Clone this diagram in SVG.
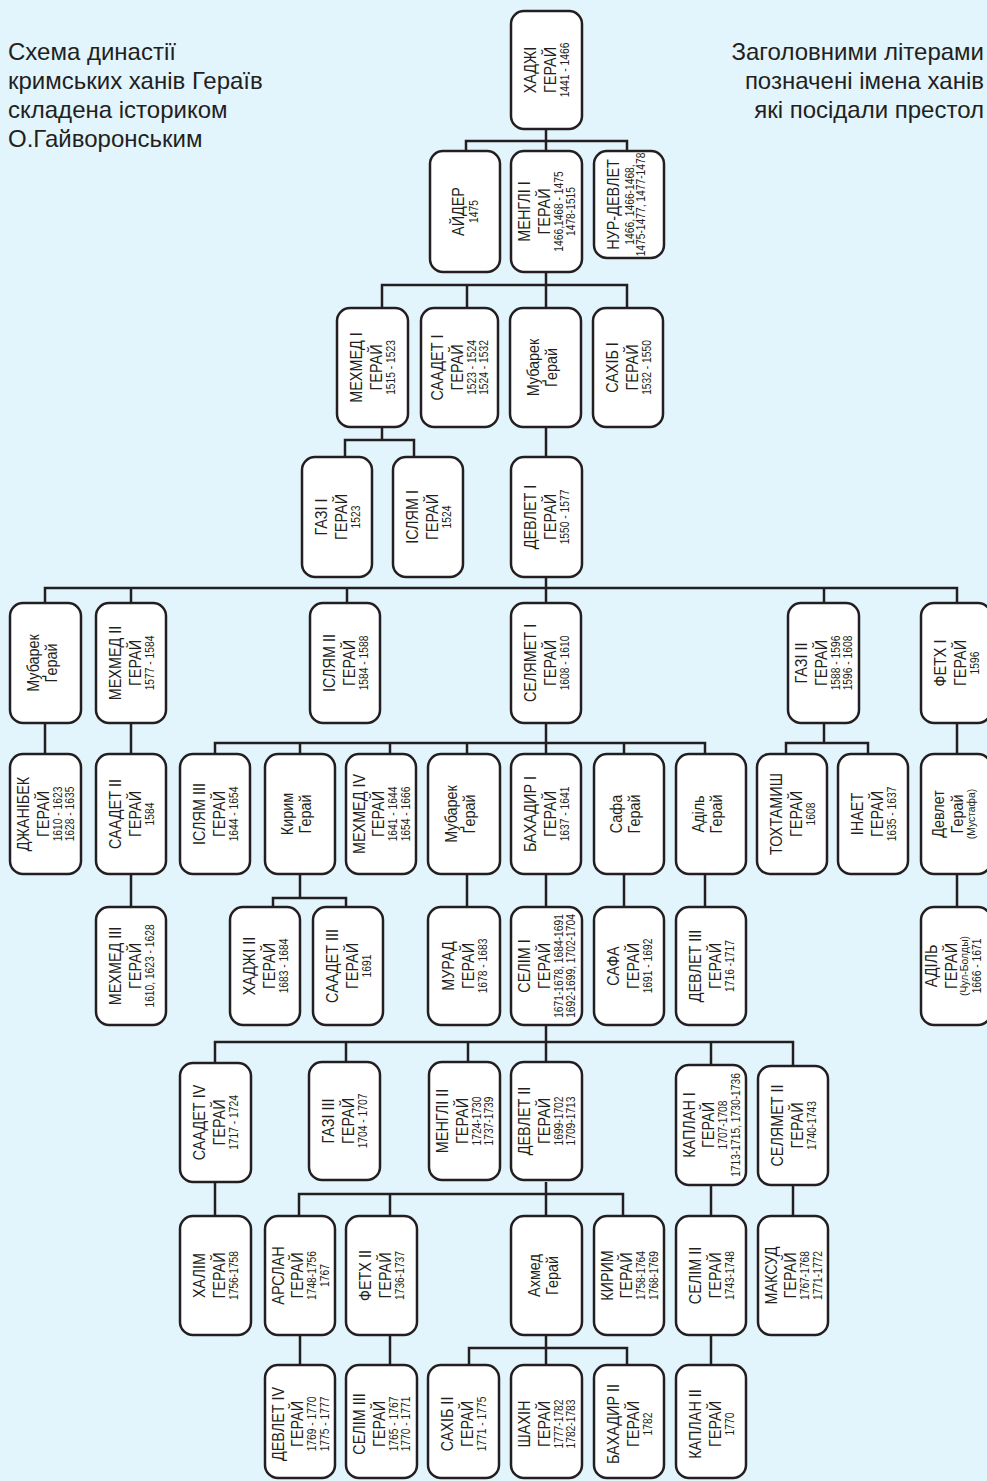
<svg xmlns="http://www.w3.org/2000/svg" width="987" height="1481" viewBox="0 0 987 1481">
<style>
.bg{fill:#e2f4fc}
.b{fill:#fff;stroke:#231f20;stroke-width:2.5}
.c{fill:none;stroke:#231f20;stroke-width:2.5}
text{font-family:"Liberation Sans",Arial,sans-serif;fill:#231f20;text-anchor:middle}
.nm text{font-size:16px}
.dt text{font-size:13.5px}
.sm text{font-size:11.5px}
.note{font-size:24px;text-anchor:start}
.noter{font-size:24px;text-anchor:end}
</style>
<rect class="bg" x="0" y="0" width="987" height="1481"/>
<g id="note-left">
<text class="note" x="8" y="60">Схема династії</text>
<text class="note" x="8" y="89">кримських ханів Гераїв</text>
<text class="note" x="8" y="118">складена істориком</text>
<text class="note" x="8" y="147">О.Гайворонським</text>
</g>
<g id="note-right">
<text class="noter" x="984" y="60">Заголовними літерами</text>
<text class="noter" x="984" y="89">позначені імена ханів</text>
<text class="noter" x="984" y="118">які посідали престол</text>
</g>
<g id="connectors">
<path class="c" d="M546 129V141M466 151V141H627V151M546 141V151
M546 272V285M382 308V285H627V308M467 285V308M546 285V308
M382 427V440M345 457V440H414V457
M546 427V457
M546 577V588M45 603V588H957V603M131 588V603M347 588V603M546 588V603M824 588V603
M45 723V754M131 723V754
M546 723V743M215 754V743H705V754M300 743V754M390 743V754M467 743V754M546 743V754M624 743V754
M824 723V743M786 754V743H868V754
M957 723V754
M131 874V907
M300 874V898M273 907V898H346V907
M467 874V907M546 874V907M624 874V907M705 874V907M957 874V907
M546 1025V1042M215 1063V1042H793V1066M346 1042V1063M468 1042V1063M546 1042V1063M711 1042V1065
M215 1182V1216
M546 1182V1194M299 1216V1194H623V1216M390 1194V1216M546 1194V1216
M711 1185V1216M793 1185V1216
M300 1335V1365M390 1335V1365
M546 1335V1348M469 1365V1348H627V1365M546 1348V1365
M711 1335V1365"/>
</g>

<g id="hadzhi1"><rect class="b" x="511" y="11" width="71" height="118" rx="13"/><g transform="translate(546.5 70) rotate(-90)"><g class="nm" transform="scale(.9 1)"><text y="-10.5">ХАДЖІ</text><text y="9.5">ГЕРАЙ</text></g><g class="dt" transform="scale(.76 1)"><text y="23">1441 - 1466</text></g></g></g>

<g id="aider"><rect class="b" x="430" y="151" width="70" height="121" rx="13"/><g transform="translate(465 211.5) rotate(-90)"><g class="nm" transform="scale(.9 1)"><text y="-1.5">АЙДЕР</text></g><g class="dt" transform="scale(.76 1)"><text y="13.5">1475</text></g></g></g>

<g id="mengli1"><rect class="b" x="511" y="151" width="71" height="121" rx="13"/><g transform="translate(546.5 211.5) rotate(-90)"><g class="nm" transform="scale(.9 1)"><text y="-16.5">МЕНГЛІ I</text><text y="3">ГЕРАЙ</text></g><g class="dt" transform="scale(.76 1)"><text y="16.5">1466,1468 - 1475</text><text y="29">1478-1515</text></g></g></g>

<g id="nur-devlet"><rect class="b" x="594" y="151" width="70" height="107" rx="13"/><g transform="translate(629 204.5) rotate(-90)"><g class="nm" transform="scale(.9 1)"><text y="-10.5">НУР-ДЕВЛЕТ</text></g><g class="dt" transform="scale(.76 1)"><text y="4.5">1466, 1466-1468,</text><text y="16.5">1475-1477, 1477-1478</text></g></g></g>

<g id="mehmed1"><rect class="b" x="337" y="308" width="71" height="119" rx="13"/><g transform="translate(372.5 367.5) rotate(-90)"><g class="nm" transform="scale(.9 1)"><text y="-10.5">МЕХМЕД I</text><text y="9.5">ГЕРАЙ</text></g><g class="dt" transform="scale(.76 1)"><text y="23">1515 - 1523</text></g></g></g>

<g id="saadet1"><rect class="b" x="421" y="308" width="77" height="119" rx="13"/><g transform="translate(459.5 367.5) rotate(-90)"><g class="nm" transform="scale(.9 1)"><text y="-16.5">СААДЕТ I</text><text y="3">ГЕРАЙ</text></g><g class="dt" transform="scale(.76 1)"><text y="16.5">1523 - 1524</text><text y="29">1524 - 1532</text></g></g></g>

<g id="mubarek1"><rect class="b" x="510" y="308" width="71" height="119" rx="13"/><g transform="translate(545.5 367.5) rotate(-90)"><g class="nm" transform="scale(.9 1)"><text y="-7">Мубарек</text><text y="11">Ґерай</text></g></g></g>

<g id="sakhib1"><rect class="b" x="593" y="308" width="70" height="119" rx="13"/><g transform="translate(628 367.5) rotate(-90)"><g class="nm" transform="scale(.9 1)"><text y="-10.5">САХІБ I</text><text y="9.5">ГЕРАЙ</text></g><g class="dt" transform="scale(.76 1)"><text y="23">1532 - 1550</text></g></g></g>

<g id="gazi1"><rect class="b" x="302" y="457" width="70" height="120" rx="13"/><g transform="translate(337 517) rotate(-90)"><g class="nm" transform="scale(.9 1)"><text y="-10.5">ГАЗІ I</text><text y="9.5">ГЕРАЙ</text></g><g class="dt" transform="scale(.76 1)"><text y="23">1523</text></g></g></g>

<g id="islam1"><rect class="b" x="393" y="457" width="70" height="120" rx="13"/><g transform="translate(428 517) rotate(-90)"><g class="nm" transform="scale(.9 1)"><text y="-10.5">ІСЛЯМ I</text><text y="9.5">ГЕРАЙ</text></g><g class="dt" transform="scale(.76 1)"><text y="23">1524</text></g></g></g>

<g id="devlet1"><rect class="b" x="511" y="457" width="71" height="120" rx="13"/><g transform="translate(546.5 517) rotate(-90)"><g class="nm" transform="scale(.9 1)"><text y="-10.5">ДЕВЛЕТ I</text><text y="9.5">ГЕРАЙ</text></g><g class="dt" transform="scale(.76 1)"><text y="23">1550 - 1577</text></g></g></g>

<g id="mubarek2"><rect class="b" x="10" y="603" width="71" height="120" rx="13"/><g transform="translate(45.5 663) rotate(-90)"><g class="nm" transform="scale(.9 1)"><text y="-7">Мубарек</text><text y="11">Ґерай</text></g></g></g>

<g id="mehmed2"><rect class="b" x="96" y="603" width="70" height="120" rx="13"/><g transform="translate(131 663) rotate(-90)"><g class="nm" transform="scale(.9 1)"><text y="-10.5">МЕХМЕД II</text><text y="9.5">ГЕРАЙ</text></g><g class="dt" transform="scale(.76 1)"><text y="23">1577 - 1584</text></g></g></g>

<g id="islam2"><rect class="b" x="310" y="603" width="70" height="120" rx="13"/><g transform="translate(345 663) rotate(-90)"><g class="nm" transform="scale(.9 1)"><text y="-10.5">ІСЛЯМ II</text><text y="9.5">ГЕРАЙ</text></g><g class="dt" transform="scale(.76 1)"><text y="23">1584 - 1588</text></g></g></g>

<g id="selyamet1"><rect class="b" x="511" y="603" width="70" height="120" rx="13"/><g transform="translate(546 663) rotate(-90)"><g class="nm" transform="scale(.9 1)"><text y="-10.5">СЕЛЯМЕТ I</text><text y="9.5">ГЕРАЙ</text></g><g class="dt" transform="scale(.76 1)"><text y="23">1608 - 1610</text></g></g></g>

<g id="gazi2"><rect class="b" x="788" y="603" width="71" height="120" rx="13"/><g transform="translate(823.5 663) rotate(-90)"><g class="nm" transform="scale(.9 1)"><text y="-16.5">ГАЗІ II</text><text y="3">ГЕРАЙ</text></g><g class="dt" transform="scale(.76 1)"><text y="16.5">1588 - 1596</text><text y="29">1596 - 1608</text></g></g></g>

<g id="fetkh1"><rect class="b" x="921" y="603" width="70" height="120" rx="13"/><g transform="translate(956 663) rotate(-90)"><g class="nm" transform="scale(.9 1)"><text y="-10.5">ФЕТХ I</text><text y="9.5">ГЕРАЙ</text></g><g class="dt" transform="scale(.76 1)"><text y="23">1596</text></g></g></g>

<g id="dzhanibek"><rect class="b" x="10" y="754" width="71" height="120" rx="13"/><g transform="translate(45.5 814) rotate(-90)"><g class="nm" transform="scale(.9 1)"><text y="-16.5">ДЖАНІБЕК</text><text y="3">ГЕРАЙ</text></g><g class="dt" transform="scale(.76 1)"><text y="16.5">1610 - 1623</text><text y="29">1628 - 1635</text></g></g></g>

<g id="saadet2"><rect class="b" x="96" y="754" width="70" height="120" rx="13"/><g transform="translate(131 814) rotate(-90)"><g class="nm" transform="scale(.9 1)"><text y="-10.5">СААДЕТ II</text><text y="9.5">ГЕРАЙ</text></g><g class="dt" transform="scale(.76 1)"><text y="23">1584</text></g></g></g>

<g id="islam3"><rect class="b" x="180" y="754" width="70" height="120" rx="13"/><g transform="translate(215 814) rotate(-90)"><g class="nm" transform="scale(.9 1)"><text y="-10.5">ІСЛЯМ III</text><text y="9.5">ГЕРАЙ</text></g><g class="dt" transform="scale(.76 1)"><text y="23">1644 - 1654</text></g></g></g>

<g id="kyrym1"><rect class="b" x="265" y="754" width="70" height="120" rx="13"/><g transform="translate(300 814) rotate(-90)"><g class="nm" transform="scale(.9 1)"><text y="-7">Кирим</text><text y="11">Герай</text></g></g></g>

<g id="mehmed4"><rect class="b" x="346" y="754" width="70" height="120" rx="13"/><g transform="translate(381 814) rotate(-90)"><g class="nm" transform="scale(.9 1)"><text y="-16.5">МЕХМЕД IV</text><text y="3">ГЕРАЙ</text></g><g class="dt" transform="scale(.76 1)"><text y="16.5">1641 - 1644</text><text y="29">1654 - 1666</text></g></g></g>

<g id="mubarek3"><rect class="b" x="428" y="754" width="72" height="120" rx="13"/><g transform="translate(464 814) rotate(-90)"><g class="nm" transform="scale(.9 1)"><text y="-7">Мубарек</text><text y="11">Ґерай</text></g></g></g>

<g id="bakhadyr1"><rect class="b" x="511" y="754" width="70" height="120" rx="13"/><g transform="translate(546 814) rotate(-90)"><g class="nm" transform="scale(.9 1)"><text y="-10.5">БАХАДИР I</text><text y="9.5">ГЕРАЙ</text></g><g class="dt" transform="scale(.76 1)"><text y="23">1637 - 1641</text></g></g></g>

<g id="safa1"><rect class="b" x="594" y="754" width="70" height="120" rx="13"/><g transform="translate(629 814) rotate(-90)"><g class="nm" transform="scale(.9 1)"><text y="-7">Сафа</text><text y="11">Герай</text></g></g></g>

<g id="adil1"><rect class="b" x="676" y="754" width="70" height="120" rx="13"/><g transform="translate(711 814) rotate(-90)"><g class="nm" transform="scale(.9 1)"><text y="-7">Аділь</text><text y="11">Герай</text></g></g></g>

<g id="tokhtamysh"><rect class="b" x="757" y="754" width="70" height="120" rx="13"/><g transform="translate(792 814) rotate(-90)"><g class="nm" transform="scale(.9 1)"><text y="-10.5">ТОХТАМИШ</text><text y="9.5">ГЕРАЙ</text></g><g class="dt" transform="scale(.76 1)"><text y="23">1608</text></g></g></g>

<g id="inaet"><rect class="b" x="838" y="754" width="70" height="120" rx="13"/><g transform="translate(873 814) rotate(-90)"><g class="nm" transform="scale(.9 1)"><text y="-10.5">ІНАЕТ</text><text y="9.5">ГЕРАЙ</text></g><g class="dt" transform="scale(.76 1)"><text y="23">1635 - 1637</text></g></g></g>

<g id="devlet-mustafa"><rect class="b" x="921" y="754" width="70" height="120" rx="13"/><g transform="translate(956 814) rotate(-90)"><g class="nm" transform="scale(.9 1)"><text y="-12">Девлет</text><text y="7">Герай</text></g><g class="sm" transform="scale(.9 1)"><text y="19">(Мустафа)</text></g></g></g>

<g id="mehmed3"><rect class="b" x="96" y="907" width="70" height="118" rx="13"/><g transform="translate(131 966) rotate(-90)"><g class="nm" transform="scale(.9 1)"><text y="-10.5">МЕХМЕД III</text><text y="9.5">ГЕРАЙ</text></g><g class="dt" transform="scale(.76 1)"><text y="23">1610, 1623 - 1628</text></g></g></g>

<g id="khadzhi2"><rect class="b" x="230" y="907" width="70" height="118" rx="13"/><g transform="translate(265 966) rotate(-90)"><g class="nm" transform="scale(.9 1)"><text y="-10.5">ХАДЖІ II</text><text y="9.5">ГЕРАЙ</text></g><g class="dt" transform="scale(.76 1)"><text y="23">1683 - 1684</text></g></g></g>

<g id="saadet3"><rect class="b" x="313" y="907" width="70" height="118" rx="13"/><g transform="translate(348 966) rotate(-90)"><g class="nm" transform="scale(.9 1)"><text y="-10.5">СААДЕТ III</text><text y="9.5">ГЕРАЙ</text></g><g class="dt" transform="scale(.76 1)"><text y="23">1691</text></g></g></g>

<g id="murad"><rect class="b" x="428" y="907" width="72" height="118" rx="13"/><g transform="translate(464 966) rotate(-90)"><g class="nm" transform="scale(.9 1)"><text y="-10.5">МУРАД</text><text y="9.5">ГЕРАЙ</text></g><g class="dt" transform="scale(.76 1)"><text y="23">1678 - 1683</text></g></g></g>

<g id="selim1"><rect class="b" x="511" y="907" width="71" height="118" rx="13"/><g transform="translate(546.5 966) rotate(-90)"><g class="nm" transform="scale(.9 1)"><text y="-16.5">СЕЛІМ I</text><text y="3">ГЕРАЙ</text></g><g class="dt" transform="scale(.76 1)"><text y="16.5">1671-1678, 1684-1691</text><text y="29">1692-1699, 1702-1704</text></g></g></g>

<g id="safa2"><rect class="b" x="594" y="907" width="70" height="118" rx="13"/><g transform="translate(629 966) rotate(-90)"><g class="nm" transform="scale(.9 1)"><text y="-10.5">САФА</text><text y="9.5">ГЕРАЙ</text></g><g class="dt" transform="scale(.76 1)"><text y="23">1691 - 1692</text></g></g></g>

<g id="devlet3"><rect class="b" x="676" y="907" width="70" height="118" rx="13"/><g transform="translate(711 966) rotate(-90)"><g class="nm" transform="scale(.9 1)"><text y="-10.5">ДЕВЛЕТ III</text><text y="9.5">ГЕРАЙ</text></g><g class="dt" transform="scale(.76 1)"><text y="23">1716 -1717</text></g></g></g>

<g id="adil2"><rect class="b" x="921" y="907" width="70" height="118" rx="13"/><g transform="translate(956 966) rotate(-90)"><g class="nm" transform="scale(.9 1)"><text y="-19">АДІЛЬ</text><text y="0.5">ГЕРАЙ</text></g><g class="sm" transform="scale(.9 1)"><text y="12">(Чул-Болды)</text></g><g class="dt" transform="scale(.76 1)"><text y="25">1666 - 1671</text></g></g></g>

<g id="saadet4"><rect class="b" x="180" y="1063" width="71" height="119" rx="13"/><g transform="translate(215.5 1122.5) rotate(-90)"><g class="nm" transform="scale(.9 1)"><text y="-10.5">СААДЕТ IV</text><text y="9.5">ГЕРАЙ</text></g><g class="dt" transform="scale(.76 1)"><text y="23">1717 - 1724</text></g></g></g>

<g id="gazi3"><rect class="b" x="309" y="1062" width="71" height="118" rx="13"/><g transform="translate(344.5 1121) rotate(-90)"><g class="nm" transform="scale(.9 1)"><text y="-10.5">ГАЗІ III</text><text y="9.5">ГЕРАЙ</text></g><g class="dt" transform="scale(.76 1)"><text y="23">1704 - 1707</text></g></g></g>

<g id="mengli2"><rect class="b" x="429" y="1062" width="71" height="118" rx="13"/><g transform="translate(464.5 1121) rotate(-90)"><g class="nm" transform="scale(.9 1)"><text y="-16.5">МЕНГЛІ II</text><text y="3">ГЕРАЙ</text></g><g class="dt" transform="scale(.76 1)"><text y="16.5">1724-1730</text><text y="29">1737-1739</text></g></g></g>

<g id="devlet2"><rect class="b" x="511" y="1062" width="71" height="118" rx="13"/><g transform="translate(546.5 1121) rotate(-90)"><g class="nm" transform="scale(.9 1)"><text y="-16.5">ДЕВЛЕТ II</text><text y="3">ГЕРАЙ</text></g><g class="dt" transform="scale(.76 1)"><text y="16.5">1699-1702</text><text y="29">1709-1713</text></g></g></g>

<g id="kaplan1"><rect class="b" x="676" y="1065" width="70" height="120" rx="13"/><g transform="translate(711 1125) rotate(-90)"><g class="nm" transform="scale(.9 1)"><text y="-16.5">КАПЛАН I</text><text y="3">ГЕРАЙ</text></g><g class="dt" transform="scale(.76 1)"><text y="16.5">1707-1708</text><text y="29">1713-1715, 1730-1736</text></g></g></g>

<g id="selyamet2"><rect class="b" x="758" y="1066" width="70" height="119" rx="13"/><g transform="translate(793 1125.5) rotate(-90)"><g class="nm" transform="scale(.9 1)"><text y="-10.5">СЕЛЯМЕТ II</text><text y="9.5">ГЕРАЙ</text></g><g class="dt" transform="scale(.76 1)"><text y="23">1740-1743</text></g></g></g>

<g id="khalim"><rect class="b" x="180" y="1216" width="71" height="119" rx="13"/><g transform="translate(215.5 1275.5) rotate(-90)"><g class="nm" transform="scale(.9 1)"><text y="-10.5">ХАЛІМ</text><text y="9.5">ГЕРАЙ</text></g><g class="dt" transform="scale(.76 1)"><text y="23">1756-1758</text></g></g></g>

<g id="arslan"><rect class="b" x="265" y="1216" width="70" height="119" rx="13"/><g transform="translate(300 1275.5) rotate(-90)"><g class="nm" transform="scale(.9 1)"><text y="-16.5">АРСЛАН</text><text y="3">ГЕРАЙ</text></g><g class="dt" transform="scale(.76 1)"><text y="16.5">1748-1756</text><text y="29">1767</text></g></g></g>

<g id="fetkh2"><rect class="b" x="346" y="1216" width="71" height="119" rx="13"/><g transform="translate(381.5 1275.5) rotate(-90)"><g class="nm" transform="scale(.9 1)"><text y="-10.5">ФЕТХ II</text><text y="9.5">ГЕРАЙ</text></g><g class="dt" transform="scale(.76 1)"><text y="23">1736-1737</text></g></g></g>

<g id="akhmed"><rect class="b" x="511" y="1216" width="71" height="119" rx="13"/><g transform="translate(546.5 1275.5) rotate(-90)"><g class="nm" transform="scale(.9 1)"><text y="-7">Ахмед</text><text y="11">Герай</text></g></g></g>

<g id="kyrym2"><rect class="b" x="594" y="1216" width="70" height="119" rx="13"/><g transform="translate(629 1275.5) rotate(-90)"><g class="nm" transform="scale(.9 1)"><text y="-16.5">КИРИМ</text><text y="3">ГЕРАЙ</text></g><g class="dt" transform="scale(.76 1)"><text y="16.5">1758-1764</text><text y="29">1768-1769</text></g></g></g>

<g id="selim2"><rect class="b" x="676" y="1216" width="70" height="119" rx="13"/><g transform="translate(711 1275.5) rotate(-90)"><g class="nm" transform="scale(.9 1)"><text y="-10.5">СЕЛІМ II</text><text y="9.5">ГЕРАЙ</text></g><g class="dt" transform="scale(.76 1)"><text y="23">1743-1748</text></g></g></g>

<g id="maksud"><rect class="b" x="758" y="1216" width="70" height="119" rx="13"/><g transform="translate(793 1275.5) rotate(-90)"><g class="nm" transform="scale(.9 1)"><text y="-16.5">МАКСУД</text><text y="3">ГЕРАЙ</text></g><g class="dt" transform="scale(.76 1)"><text y="16.5">1767-1768</text><text y="29">1771-1772</text></g></g></g>

<g id="devlet4"><rect class="b" x="265" y="1365" width="70" height="113" rx="13"/><g transform="translate(300 1424) rotate(-90)"><g class="nm" transform="scale(.9 1)"><text y="-16.5">ДЕВЛЕТ IV</text><text y="3">ГЕРАЙ</text></g><g class="dt" transform="scale(.76 1)"><text y="16.5">1769 - 1770</text><text y="29">1775 - 1777</text></g></g></g>

<g id="selim3"><rect class="b" x="346" y="1365" width="71" height="113" rx="13"/><g transform="translate(381.5 1424) rotate(-90)"><g class="nm" transform="scale(.9 1)"><text y="-16.5">СЕЛІМ III</text><text y="3">ГЕРАЙ</text></g><g class="dt" transform="scale(.76 1)"><text y="16.5">1765 - 1767</text><text y="29">1770 - 1771</text></g></g></g>

<g id="sakhib2"><rect class="b" x="428" y="1365" width="71" height="113" rx="13"/><g transform="translate(463.5 1424) rotate(-90)"><g class="nm" transform="scale(.9 1)"><text y="-10.5">САХІБ II</text><text y="9.5">ГЕРАЙ</text></g><g class="dt" transform="scale(.76 1)"><text y="23">1771 - 1775</text></g></g></g>

<g id="shakhin"><rect class="b" x="511" y="1365" width="71" height="113" rx="13"/><g transform="translate(546.5 1424) rotate(-90)"><g class="nm" transform="scale(.9 1)"><text y="-16.5">ШАХІН</text><text y="3">ГЕРАЙ</text></g><g class="dt" transform="scale(.76 1)"><text y="16.5">1777-1782</text><text y="29">1782-1783</text></g></g></g>

<g id="bakhadyr2"><rect class="b" x="594" y="1365" width="70" height="113" rx="13"/><g transform="translate(629 1424) rotate(-90)"><g class="nm" transform="scale(.9 1)"><text y="-10.5">БАХАДИР II</text><text y="9.5">ГЕРАЙ</text></g><g class="dt" transform="scale(.76 1)"><text y="23">1782</text></g></g></g>

<g id="kaplan2"><rect class="b" x="676" y="1365" width="70" height="113" rx="13"/><g transform="translate(711 1424) rotate(-90)"><g class="nm" transform="scale(.9 1)"><text y="-10.5">КАПЛАН II</text><text y="9.5">ГЕРАЙ</text></g><g class="dt" transform="scale(.76 1)"><text y="23">1770</text></g></g></g>
</svg>
